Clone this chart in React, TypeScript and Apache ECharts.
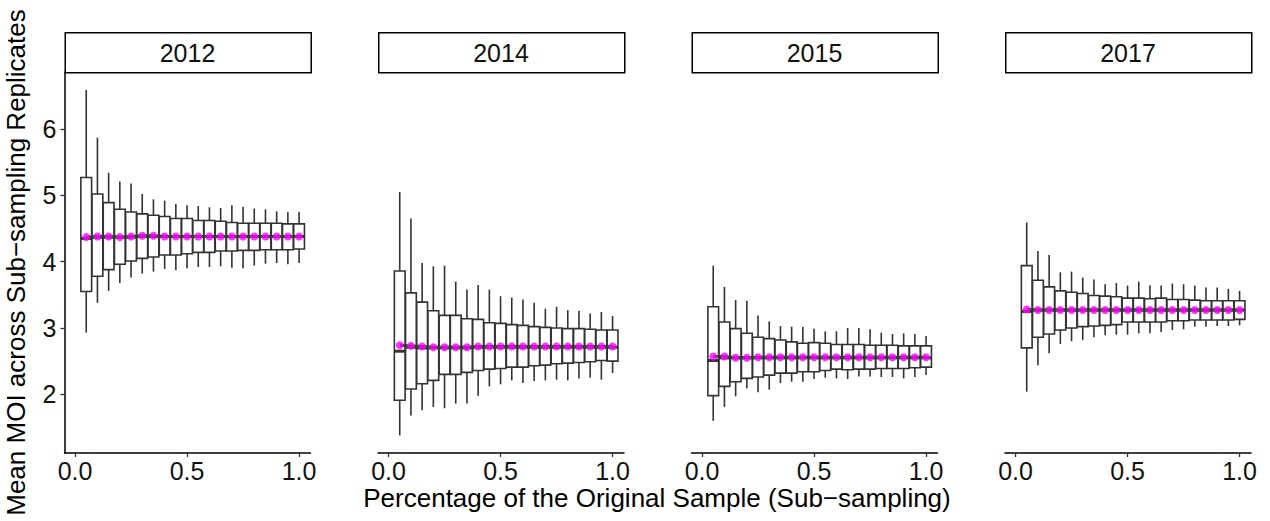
import React, { useEffect, useRef } from "react";
import * as echarts from "echarts";

const years = ["2012", "2014", "2015", "2017"];
const xs = [0.05, 0.1, 0.15, 0.2, 0.25, 0.3, 0.35, 0.4, 0.45, 0.5, 0.55, 0.6, 0.65, 0.7, 0.75, 0.8, 0.85, 0.9, 0.95, 1.0];
const xTicks = [0, 0.5, 1.0];
const yTicks = [2, 3, 4, 5, 6];

const high2012 = [6.59, 5.87, 5.34, 5.21, 5.18, 5.02, 4.94, 4.92, 4.87, 4.85, 4.84, 4.82, 4.81, 4.85, 4.83, 4.8, 4.79, 4.76, 4.75, 4.75];
const q3_2012 = [5.27, 5.02, 4.89, 4.79, 4.75, 4.72, 4.7, 4.68, 4.65, 4.65, 4.62, 4.62, 4.61, 4.59, 4.58, 4.58, 4.58, 4.58, 4.57, 4.57];
const med2012 = [4.35, 4.37, 4.37, 4.37, 4.37, 4.38, 4.38, 4.38, 4.38, 4.38, 4.38, 4.38, 4.38, 4.38, 4.38, 4.38, 4.38, 4.38, 4.38, 4.38];
const q1_2012 = [3.55, 3.78, 3.88, 3.96, 4.01, 4.05, 4.07, 4.1, 4.1, 4.12, 4.14, 4.14, 4.16, 4.16, 4.17, 4.17, 4.18, 4.18, 4.18, 4.19];
const low2012 = [2.93, 3.38, 3.56, 3.68, 3.76, 3.82, 3.85, 3.89, 3.87, 3.9, 3.92, 3.92, 3.93, 3.91, 3.9, 3.94, 3.97, 3.98, 3.96, 3.98];
const mean2012 = [4.37, 4.38, 4.38, 4.37, 4.38, 4.39, 4.39, 4.38, 4.38, 4.38, 4.38, 4.38, 4.38, 4.38, 4.38, 4.38, 4.38, 4.38, 4.38, 4.38];

const high2014 = [5.05, 4.65, 3.98, 3.93, 3.94, 3.7, 3.58, 3.65, 3.58, 3.48, 3.46, 3.43, 3.38, 3.29, 3.32, 3.27, 3.26, 3.22, 3.24, 3.18];
const q3_2014 = [3.86, 3.53, 3.39, 3.26, 3.19, 3.19, 3.14, 3.13, 3.08, 3.07, 3.05, 3.04, 3.02, 3.01, 3.0, 2.99, 2.99, 2.98, 2.97, 2.97];
const med2014 = [2.65, 2.71, 2.7, 2.7, 2.7, 2.7, 2.7, 2.71, 2.71, 2.71, 2.71, 2.71, 2.71, 2.71, 2.71, 2.71, 2.71, 2.71, 2.71, 2.71];
const q1_2014 = [1.91, 2.08, 2.16, 2.21, 2.3, 2.3, 2.33, 2.36, 2.38, 2.39, 2.41, 2.41, 2.43, 2.44, 2.46, 2.47, 2.48, 2.49, 2.51, 2.5];
const low2014 = [1.38, 1.68, 1.76, 1.81, 1.79, 1.86, 1.86, 1.98, 2.12, 2.15, 2.21, 2.17, 2.2, 2.21, 2.22, 2.21, 2.24, 2.25, 2.22, 2.32];
const mean2014 = [2.74, 2.73, 2.72, 2.71, 2.71, 2.71, 2.71, 2.72, 2.72, 2.72, 2.72, 2.72, 2.72, 2.72, 2.72, 2.72, 2.72, 2.72, 2.72, 2.72];

const high2015 = [3.94, 3.62, 3.42, 3.41, 3.19, 3.1, 3.03, 3.02, 3.02, 2.99, 2.95, 2.95, 3.0, 3.0, 2.98, 2.93, 2.91, 2.92, 2.91, 2.88];
const q3_2015 = [3.32, 3.09, 2.99, 2.92, 2.86, 2.84, 2.82, 2.79, 2.77, 2.78, 2.77, 2.75, 2.75, 2.75, 2.74, 2.74, 2.74, 2.73, 2.73, 2.73];
const med2015 = [2.51, 2.55, 2.55, 2.55, 2.55, 2.55, 2.55, 2.55, 2.55, 2.55, 2.55, 2.55, 2.55, 2.55, 2.55, 2.55, 2.55, 2.55, 2.55, 2.55];
const q1_2015 = [1.98, 2.12, 2.19, 2.24, 2.26, 2.29, 2.32, 2.32, 2.34, 2.34, 2.36, 2.38, 2.37, 2.38, 2.38, 2.39, 2.39, 2.39, 2.4, 2.41];
const low2015 = [1.6, 1.81, 1.97, 2.09, 2.03, 2.07, 2.17, 2.19, 2.19, 2.23, 2.25, 2.24, 2.23, 2.27, 2.27, 2.26, 2.26, 2.24, 2.26, 2.29];
const mean2015 = [2.57, 2.57, 2.55, 2.55, 2.56, 2.56, 2.56, 2.56, 2.56, 2.56, 2.56, 2.56, 2.56, 2.56, 2.56, 2.56, 2.56, 2.56, 2.56, 2.56];

const high2017 = [4.59, 4.16, 4.1, 3.84, 3.85, 3.76, 3.73, 3.66, 3.68, 3.64, 3.7, 3.64, 3.64, 3.67, 3.66, 3.64, 3.61, 3.61, 3.59, 3.56];
const q3_2017 = [3.94, 3.72, 3.62, 3.56, 3.54, 3.52, 3.49, 3.48, 3.47, 3.45, 3.45, 3.44, 3.45, 3.43, 3.43, 3.42, 3.41, 3.41, 3.41, 3.41];
const med2017 = [3.25, 3.27, 3.27, 3.27, 3.27, 3.27, 3.27, 3.27, 3.27, 3.27, 3.27, 3.27, 3.27, 3.27, 3.27, 3.27, 3.27, 3.27, 3.27, 3.27];
const q1_2017 = [2.7, 2.86, 2.91, 2.97, 3.0, 3.02, 3.03, 3.04, 3.05, 3.09, 3.09, 3.09, 3.09, 3.11, 3.11, 3.12, 3.12, 3.12, 3.12, 3.13];
const low2017 = [2.04, 2.44, 2.62, 2.76, 2.8, 2.82, 2.86, 2.89, 2.9, 2.9, 2.92, 2.92, 2.94, 2.97, 2.98, 3.02, 3.02, 3.03, 3.03, 3.04];
const mean2017 = [3.28, 3.27, 3.27, 3.27, 3.27, 3.27, 3.27, 3.27, 3.27, 3.27, 3.27, 3.27, 3.27, 3.27, 3.27, 3.27, 3.27, 3.27, 3.27, 3.27];

const panels = [
  { low: low2012, q1: q1_2012, med: med2012, q3: q3_2012, high: high2012, mean: mean2012 },
  { low: low2014, q1: q1_2014, med: med2014, q3: q3_2014, high: high2014, mean: mean2014 },
  { low: low2015, q1: q1_2015, med: med2015, q3: q3_2015, high: high2015, mean: mean2015 },
  { low: low2017, q1: q1_2017, med: med2017, q3: q3_2017, high: high2017, mean: mean2017 },
];

const FONT = "'Liberation Sans', Arial, Helvetica, sans-serif";
const BOX_W = 0.048;
const STROKE = "#333333";

export default function App() {
  const ref = useRef<HTMLDivElement>(null);
  useEffect(() => {
    if (!ref.current) return;
    const chart = echarts.init(ref.current, null, { renderer: "svg" });
    const panelLeft = [64.5, 378, 691.5, 1005];
    const panelW = 246;
    const top = 72;
    const height = 381;
    const grids = panelLeft.map((l) => ({ left: l, top, width: panelW, height, containLabel: false, outerBoundsMode: "none" }));
    const xAxes = panelLeft.map((_, i) => ({
      type: "value",
      gridIndex: i,
      min: -0.047,
      max: 1.051,
      splitLine: { show: false },
      axisLine: { show: true, onZero: false, lineStyle: { color: "#000", width: 1.5 } },
      axisTick: { show: true, length: 4, customValues: xTicks, lineStyle: { color: "#333", width: 1.3 } },
      axisLabel: {
        show: true,
        customValues: xTicks,
        formatter: (v: number) => v.toFixed(1),
        color: "#111",
        fontSize: 25,
        fontFamily: FONT,
        margin: 5,
      },
    }));
    const yAxes = panelLeft.map((_, i) => ({
      type: "value",
      gridIndex: i,
      min: 1.115,
      max: 6.86,
      show: i === 0,
      splitLine: { show: false },
      axisLine: { show: i === 0, onZero: false, lineStyle: { color: "#000", width: 1.5 } },
      axisTick: { show: i === 0, length: 4, customValues: yTicks, lineStyle: { color: "#333", width: 1.3 } },
      axisLabel: { show: i === 0, customValues: yTicks, color: "#111", fontSize: 25, fontFamily: FONT, margin: 8 },
      name: i === 0 ? "Mean MOI across Sub\u2212sampling Replicates" : "",
      nameLocation: "middle",
      nameGap: 36,
      nameTextStyle: { color: "#000", fontSize: 26, fontFamily: FONT },
    }));
    const series: any[] = [];
    panels.forEach((p, i) => {
      series.push({
        type: "custom",
        xAxisIndex: i,
        yAxisIndex: i,
        encode: { x: 0, y: [1, 2, 3, 4, 5] },
        data: xs.map((x, j) => [x, p.low[j], p.q1[j], p.med[j], p.q3[j], p.high[j]]),
        z: 2,
        renderItem: (params: any, api: any) => {
          const x = api.value(0);
          const pl = api.coord([x, api.value(1)]);
          const pq1 = api.coord([x, api.value(2)]);
          const pm = api.coord([x, api.value(3)]);
          const pq3 = api.coord([x, api.value(4)]);
          const ph = api.coord([x, api.value(5)]);
          const half = api.size([BOX_W, 0])[0] / 2;
          const cx = pm[0];
          const st = { stroke: STROKE, lineWidth: 1.6 };
          return {
            type: "group",
            children: [
              { type: "line", shape: { x1: cx, y1: ph[1], x2: cx, y2: pq3[1] }, style: st },
              { type: "line", shape: { x1: cx, y1: pq1[1], x2: cx, y2: pl[1] }, style: st },
              {
                type: "rect",
                shape: { x: cx - half, y: pq3[1], width: half * 2, height: pq1[1] - pq3[1] },
                style: { fill: "#ffffff", stroke: STROKE, lineWidth: 1.6 },
              },
              { type: "line", shape: { x1: cx - half, y1: pm[1], x2: cx + half, y2: pm[1] }, style: { stroke: STROKE, lineWidth: 3 } },
            ],
          };
        },
      });
      series.push({
        type: "line",
        xAxisIndex: i,
        yAxisIndex: i,
        data: xs.map((x, j) => [x, p.mean[j]]),
        showSymbol: false,
        symbol: "none",
        lineStyle: { color: "#0a550a", width: 3 },
        z: 3,
      });
      series.push({
        type: "scatter",
        xAxisIndex: i,
        yAxisIndex: i,
        data: xs.map((x, j) => [x, p.mean[j]]),
        symbol: "circle",
        symbolSize: 8,
        itemStyle: { color: "#ff00ff" },
        z: 4,
      });
    });
    const graphics: any[] = [];
    panelLeft.forEach((l, i) => {
      graphics.push({
        type: "rect",
        left: l,
        top: 32,
        shape: { x: 0, y: 0, width: panelW, height: 40 },
        style: { fill: "#ffffff", stroke: "#000", lineWidth: 1.5 },
      });
      graphics.push({
        type: "text",
        x: l + panelW / 2,
        y: 53,
        style: { text: years[i], fill: "#111", fontSize: 25, fontFamily: FONT, align: "center", verticalAlign: "middle" },
      });
    });
    graphics.push({
      type: "text",
      x: 657,
      y: 498,
      style: {
        text: "Percentage of the Original Sample (Sub\u2212sampling)",
        fill: "#000",
        fontSize: 26,
        fontFamily: FONT,
        align: "center",
        verticalAlign: "middle",
      },
    });
    chart.setOption({
      animation: false,
      backgroundColor: "#ffffff",
      grid: grids,
      xAxis: xAxes,
      yAxis: yAxes,
      series,
      graphic: graphics,
    } as any);
    return () => chart.dispose();
  }, []);
  return <div ref={ref} style={{ position: "fixed", left: 0, top: 0, width: 1270, height: 521 }} />;
}
